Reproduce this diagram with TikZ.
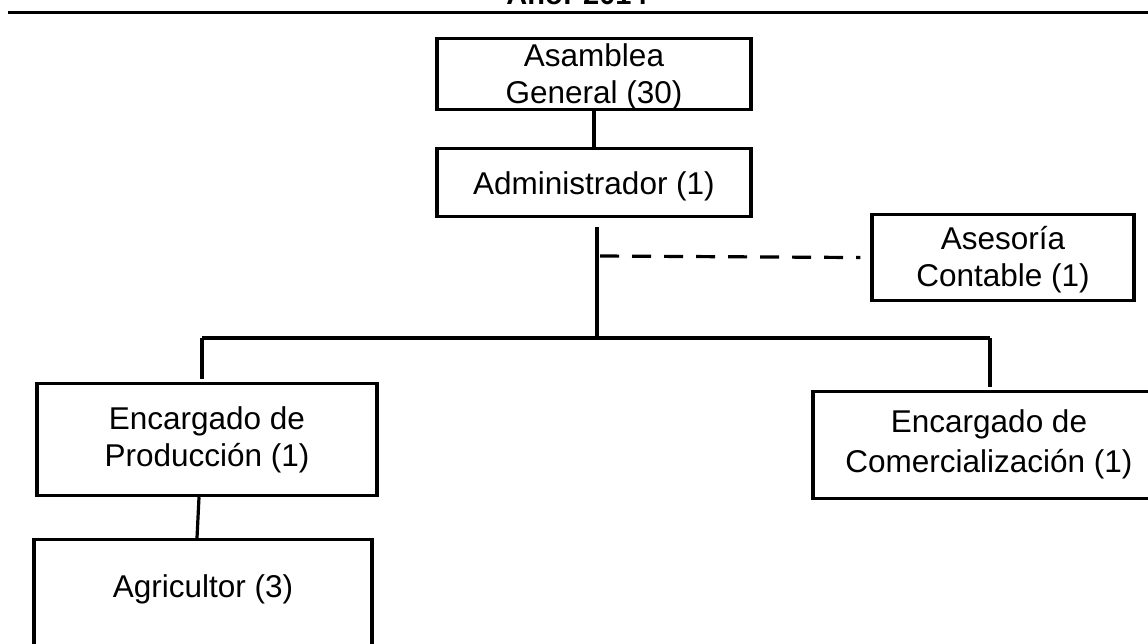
\documentclass[tikz,border=0pt]{standalone}
\usepackage{fontspec}
\setmainfont{Liberation Sans}
\begin{document}
\begin{tikzpicture}[x=1pt,y=-1pt,
  box/.style={draw, line width=3.2pt, align=center, inner sep=0pt, anchor=north,
    font=\fontsize{31.5}{37}\selectfont},
  conn/.style={line width=3.2pt},
  dashconn/.style={line width=3.2pt, dash pattern=on 19pt off 13pt},
  rule/.style={line width=3.5pt}]
\useasboundingbox (0,0) rectangle (1148,644);
\clip (0,0) rectangle (1148,644);

% title (cut off at top) and rule
\node[font=\bfseries\fontsize{29}{34}\selectfont, anchor=base, inner sep=0pt] (title) at (577,5) {Año: 2014};
\coordinate (ruleL) at (8,12.5);
\coordinate (ruleR) at (1160,12.5);
\draw[rule] (ruleL) -- (ruleR);

% boxes (text height = distance from top edge to last baseline)
\node[box, minimum width=314, text height=65pt, text depth=6pt] (asamblea) at (594,37) {Asamblea\\General (30)};
\node[box, minimum width=314, text height=46pt, text depth=22pt] (admin) at (594,147) {Administrador (1)};
\node[box, minimum width=262, text height=72pt, text depth=14pt] (asesoria) at (1003,213) {Asesoría\\Contable (1)};
\node[box, minimum width=340, text height=83pt, text depth=29pt] (prod) at (207,382) {Encargado de\\Producción (1)};
\node[box, minimum width=352, text height=81pt, text depth=26pt, font=\fontsize{31.5}{40}\selectfont] (comer) at (989,390) {Encargado de\\Comercialización (1)};
\node[box, minimum width=338, text height=58pt, text depth=102pt] (agri) at (203,538) {Agricultor (3)};

% connectors
\draw[conn] (asamblea.south) -- (admin.north);
\coordinate (v1) at (597,227);
\coordinate (hub) at (597,338);
\draw[conn] (v1) -- (hub);
\coordinate (dstart) at (600,256);
\draw[dashconn, shorten >=10pt] (dstart) -- (asesoria.west);
\coordinate (lt) at (202,338);
\coordinate (rt) at (990,338);
\draw[conn] (lt) -- (rt);
\draw[conn] (lt) -- ([yshift=3pt]lt |- prod.north);
\draw[conn] (rt) -- ([yshift=3pt]rt |- comer.north);
\draw[conn] ([xshift=-8pt]prod.south) -- ([xshift=-6pt]agri.north);
\end{tikzpicture}
\end{document}
